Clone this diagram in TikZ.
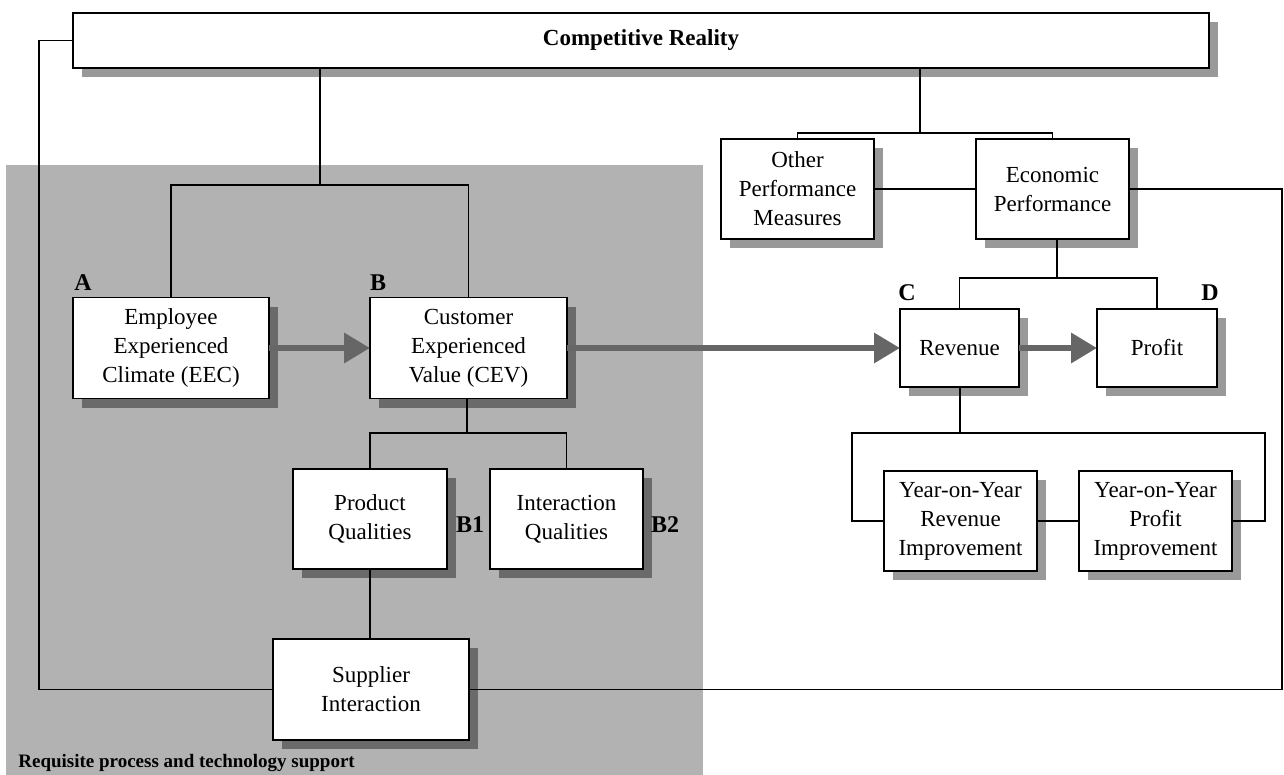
\documentclass[tikz,border=0pt]{standalone}
\usepackage{fontspec}
\setmainfont{Liberation Serif}
\usetikzlibrary{arrows.meta,shadows}
\begin{document}
\begin{tikzpicture}[x=0.5pt,y=-0.5pt,
  box/.style={draw=black, line width=0.8pt, fill=white, inner sep=0pt, outer sep=0pt,
    align=center, font=\fontsize{11.5}{14.5}\selectfont,
    drop shadow={shadow xshift=4.5pt, shadow yshift=-4.5pt, fill=black, opacity=0.4}},
  conn/.style={draw=black, line width=0.7pt},
  flow/.style={draw=black!60, line width=3.2pt, -{Triangle[length=13pt,width=14.5pt]}},
  lab/.style={font=\fontsize{12}{14}\selectfont\bfseries, inner sep=0pt}]
\useasboundingbox (0,0) rectangle (1284,775);
% support region
\fill[black!30] (6,165) rectangle (703,775);
\node[anchor=west, inner sep=0pt, font=\fontsize{9.5}{11}\selectfont\bfseries] (req) at (18,763) {Requisite process and technology support};

% boxes
\node[box, minimum width=568pt, minimum height=27.5pt, font=\fontsize{11.5}{14}\selectfont\bfseries] (CR) at (641,40.5) {Competitive Reality};
\node[box, minimum width=98pt, minimum height=50.5pt] (EEC) at (171,348) {Employee\\Experienced\\Climate (EEC)};
\node[box, minimum width=98.5pt, minimum height=50.5pt] (CEV) at (468.5,348) {Customer\\Experienced\\Value (CEV)};
\node[box, minimum width=77pt, minimum height=50pt] (PQ) at (370,519) {Product\\Qualities};
\node[box, minimum width=76.5pt, minimum height=50pt] (IQ) at (566.5,519) {Interaction\\Qualities};
\node[box, minimum width=98pt, minimum height=50.5pt] (SI) at (371,689.5) {Supplier\\Interaction};
\node[box, minimum width=76.5pt, minimum height=50pt] (OPM) at (797.5,189) {Other\\Performance\\Measures};
\node[box, minimum width=76.5pt, minimum height=50pt] (EP) at (1052.5,189) {Economic\\Performance};
\node[box, minimum width=59.5pt, minimum height=39pt] (Rev) at (959.5,348) {Revenue};
\node[box, minimum width=60pt, minimum height=39pt] (Pro) at (1157,348) {Profit};
\node[box, minimum width=76.5pt, minimum height=50pt] (YR) at (960.5,521) {Year-on-Year\\Revenue\\Improvement};
\node[box, minimum width=76.5pt, minimum height=50pt] (YP) at (1155.5,521) {Year-on-Year\\Profit\\Improvement};

% labels
\node[lab] (lA) at (83,283) {A};
\node[lab] (lB) at (378,283) {B};
\node[lab] (lC) at (907,293) {C};
\node[lab] (lD) at (1210,293) {D};
\node[lab] (lB1) at (470,525) {B1};
\node[lab] (lB2) at (665,525) {B2};

% junctions
\coordinate (j1) at (320,185);
\coordinate (j2) at (920,133);
\coordinate (j3) at (1057,278);
\coordinate (j4) at (467,433);
\coordinate (j5) at (960,433);

% connectors
\draw[conn] (CR.south -| j1) -- (j1);
\draw[conn] (EEC.north) |- (j1) -| (CEV.north);
\draw[conn] (CR.south -| j2) -- (j2);
\draw[conn] (OPM.north) |- (j2) -| (EP.north);
\draw[conn] (OPM.east) -- (EP.west);
\draw[conn] (EP.south -| j3) -- (j3);
\draw[conn] (Rev.north) |- (j3) -| (Pro.north);
\draw[conn] (CEV.south -| j4) -- (j4);
\draw[conn] (PQ.north) |- (j4) -| (IQ.north);
\draw[conn] (PQ.south) -- (PQ.south |- SI.north);
\draw[conn] (Rev.south -| j5) -- (j5);
\draw[conn] (YR.west) -- ++(-32,0) |- (j5) -| ([xshift=16.5pt]YP.east) -- (YP.east);
\draw[conn] (YR.east) -- (YP.west);
\draw[conn] (CR.west) -- ++(-34,0) |- (SI.west);
\draw[conn] (SI.east) -- ++(813,0) |- (EP.east);

% flows
\draw[flow] (EEC.east) -- (CEV.west);
\draw[flow] (CEV.east) -- (Rev.west);
\draw[flow] (Rev.east) -- (Pro.west);
\end{tikzpicture}
\end{document}
